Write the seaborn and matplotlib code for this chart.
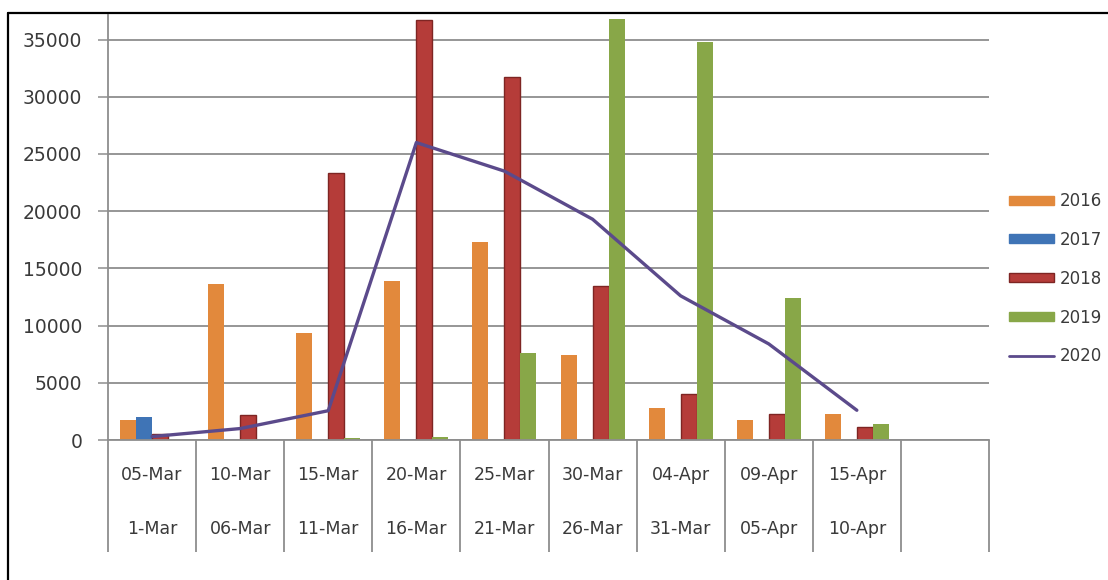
import numpy as np
import pandas as pd
import matplotlib
matplotlib.use("Agg")
import matplotlib.pyplot as plt
from matplotlib.lines import Line2D
from matplotlib.patches import Patch
import seaborn as sns

# Five-day windows: upper row is the window end, lower row the window start
top_labels = ["05-Mar", "10-Mar", "15-Mar", "20-Mar", "25-Mar",
              "30-Mar", "04-Apr", "09-Apr", "15-Apr", ""]
bottom_labels = ["1-Mar", "06-Mar", "11-Mar", "16-Mar", "21-Mar",
                 "26-Mar", "31-Mar", "05-Apr", "10-Apr", ""]

years = ["2016", "2017", "2018", "2019"]
values_2016 = [1750, 13650, 9390, 13910, 17300, 7470, 2830, 1750, 2275, np.nan]
values_2017 = [2040, 0, 0, 60, 0, 0, 0, 0, 0, np.nan]
values_2018 = [500, 2190, 23360, 36690, 31740, 13500, 4025, 2275, 1110, np.nan]
values_2019 = [0, 0, 150, 290, 7640, 36840, 34800, 12450, 1370, np.nan]
values_2020 = [300, 1000, 2560, 26000, 23500, 19300, 12600, 8400, 2600, np.nan]

y_ticks = [0, 5000, 10000, 15000, 20000, 25000, 30000, 35000]

bar_colors = ["#E2893C", "#3F74B6", "#B53C39", "#88A748"]
line_color = "#5B4A8B"
grid_color = "#8E8E8E"
text_color = "#3A3A3A"

df = pd.DataFrame({
    "slot": top_labels * len(years),
    "year": np.repeat(years, len(top_labels)),
    "value": np.concatenate([values_2016, values_2017, values_2018, values_2019]),
})

sns.set_theme(style="white")
plt.rcParams["font.family"] = ["DejaVu Sans"]

W, H = 1108, 580
fig = plt.figure(figsize=(W / 100, H / 100), dpi=100)
left_px, right_px, top_px, zero_px = 108, 989, 15, 440
ax = fig.add_axes([left_px / W, (H - zero_px) / H,
                   (right_px - left_px) / W, (zero_px - top_px) / H])

sns.barplot(data=df, x="slot", y="value", hue="year", order=top_labels,
            hue_order=years, palette=bar_colors, width=4 / 5.5, gap=0,
            saturation=1, errorbar=None, legend=False, ax=ax, linewidth=0)

for cont, yr in zip(ax.containers, years):
    for bar in cont:
        if yr == "2018":
            bar.set_edgecolor("#7E2523")
            bar.set_linewidth(1.0)
        else:
            bar.set_linewidth(0)

sns.lineplot(x=np.arange(len(values_2020)), y=values_2020, color=line_color,
             linewidth=2.4, sort=False, estimator=None, ax=ax, zorder=5)

ax.set_xlim(-0.5, len(top_labels) - 0.5)
ax.set_ylim(0, 37150)
ax.set_xlabel("")
ax.set_ylabel("")

ax.set_yticks(y_ticks)
ax.set_yticklabels([str(v) for v in y_ticks], fontsize=13.5, color=text_color)
ax.tick_params(axis="y", length=7.5, width=1.1, color=grid_color, pad=11,
               direction="out", left=True)
ax.set_xticks([])

ax.set_axisbelow(True)
ax.yaxis.grid(True, color=grid_color, linewidth=1.3)
ax.xaxis.grid(False)
for side in ["top", "right"]:
    ax.spines[side].set_visible(False)
for side in ["left", "bottom"]:
    ax.spines[side].set_color(grid_color)
    ax.spines[side].set_linewidth(1.3)

# Two-row category labels with dividers
xtr = ax.get_xaxis_transform()
plot_h = zero_px - top_px
row1 = -(475 - zero_px) / plot_h
row2 = -(529 - zero_px) / plot_h
div_bottom = -(552 - zero_px) / plot_h
for i, (t, b) in enumerate(zip(top_labels, bottom_labels)):
    ax.text(i, row1, t, transform=xtr, ha="center", va="center",
            fontsize=12.5, color=text_color)
    ax.text(i, row2, b, transform=xtr, ha="center", va="center",
            fontsize=12.5, color=text_color)
ax.vlines(np.arange(-0.5, len(top_labels)), div_bottom, 0, transform=xtr,
          color=grid_color, linewidth=1.3, clip_on=False)

# Legend
handles = [Patch(facecolor=c, edgecolor=("#7E2523" if y == "2018" else c))
           for c, y in zip(bar_colors, years)]
handles.append(Line2D([], [], color=line_color, linewidth=2))
fig.legend(handles, years + ["2020"], loc="center left",
           bbox_to_anchor=(1009 / W, 1 - 278.7 / H), frameon=False,
           fontsize=12, handlelength=2.7, handleheight=0.45,
           handletextpad=0.35, labelspacing=1.25, borderpad=0,
           borderaxespad=0, labelcolor=text_color)

# Outer frame
fig.add_artist(Line2D([8 / W, 8 / W], [0, 1 - 13 / H], color="black",
                      linewidth=1.6, transform=fig.transFigure))
fig.add_artist(Line2D([8 / W, 1], [1 - 13 / H, 1 - 13 / H], color="black",
                      linewidth=1.6, transform=fig.transFigure))

fig.savefig("out.png", dpi=100, facecolor="white")
